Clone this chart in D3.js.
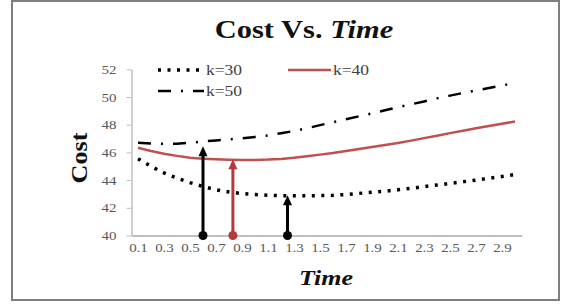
<!DOCTYPE html>
<html>
<head>
<meta charset="utf-8">
<script src="https://cdn.jsdelivr.net/npm/d3@7"></script>
<style>
  body { margin: 0; background: #fff; }
  svg { display: block; }
</style>
</head>
<body>
<script>
const width = 563;
const height = 306;
const stretch = 1.2; // the source picture is a bit wider than tall

// time values (x categories) and labelled ticks
const times = [0.1, 0.2, 0.3, 0.4, 0.5, 0.6, 0.7, 0.8, 0.9, 1.0,
    1.1, 1.2, 1.3, 1.4, 1.5, 1.6, 1.7, 1.8, 1.9, 2.0,
    2.1, 2.2, 2.3, 2.4, 2.5, 2.6, 2.7, 2.8, 2.9, 3.0];
const xTicks = [0.1, 0.3, 0.5, 0.7, 0.9, 1.1, 1.3, 1.5, 1.7, 1.9, 2.1, 2.3, 2.5, 2.7, 2.9];
const yTicks = [40, 42, 44, 46, 48, 50, 52];

// cost for each k
const k30 = [45.54, 45.0, 44.52, 44.14, 43.82, 43.54, 43.3, 43.14, 43.03, 42.96,
    42.91, 42.88, 42.87, 42.87, 42.88, 42.9, 42.96, 43.04, 43.12, 43.2,
    43.3, 43.41, 43.53, 43.64, 43.76, 43.88, 44.0, 44.13, 44.26, 44.4];
const k40 = [46.33, 46.1, 45.9, 45.75, 45.62, 45.55, 45.5, 45.47, 45.46, 45.46,
    45.48, 45.53, 45.61, 45.72, 45.84, 45.95, 46.1, 46.25, 46.39, 46.53,
    46.68, 46.85, 47.03, 47.2, 47.39, 47.57, 47.74, 47.91, 48.07, 48.23];
const k50 = [46.69, 46.65, 46.62, 46.63, 46.7, 46.79, 46.86, 46.94, 47.02, 47.12,
    47.23, 47.38, 47.55, 47.74, 47.97, 48.18, 48.4, 48.61, 48.82, 49.04,
    49.26, 49.47, 49.68, 49.9, 50.1, 50.29, 50.47, 50.65, 50.83, 51.02];

// optimum markers (arrows)
const arrowTimes = [0.6, 0.83, 1.25];
const arrowCosts = [46.45, 45.5, 42.9];
const arrowColors = ['#000', '#b5383d', '#000'];

const series = [
    { name: 'k=30', values: k30, color: '#000', width: 3.5, dash: '3,6.5' },
    { name: 'k=40', values: k40, color: '#c0504d', width: 2.5, dash: null },
    { name: 'k=50', values: k50, color: '#000', width: 2.5, dash: '13,10,2,10' }
];

const svg = d3.select('body').append('svg')
    .attr('width', width)
    .attr('height', height);

// chart frame
svg.append('rect')
    .attr('x', 12)
    .attr('y', 1)
    .attr('width', 547)
    .attr('height', 299)
    .attr('fill', '#fff')
    .attr('stroke', '#7f7f7f')
    .attr('stroke-width', 2);

const xScale = d3.scaleLinear()
    .domain([0.05, 3.05])
    .range([131.5, 521.5]);
const yScale = d3.scaleLinear()
    .domain([40, 52])
    .range([235.5, 69.3]);

// y axis
const yAxis = d3.axisLeft(yScale)
    .tickValues(yTicks)
    .tickSize(5)
    .tickPadding(10)
    .tickSizeOuter(0);
const gy = svg.append('g')
    .attr('transform', 'translate(131.5,0)')
    .call(yAxis);
gy.select('.domain').attr('stroke', '#bfbfbf').attr('stroke-width', 1.5);
gy.selectAll('.tick line').attr('stroke', '#bfbfbf');
gy.selectAll('.tick text')
    .attr('x', -15 / stretch)
    .attr('transform', 'scale(' + stretch + ',1)')
    .style('font-family', '"Liberation Serif", serif')
    .style('font-size', '12.5px')
    .attr('fill', '#595959');

// x axis
const xAxis = d3.axisBottom(xScale)
    .tickValues(xTicks)
    .tickSize(0)
    .tickPadding(8)
    .tickSizeOuter(0)
    .tickFormat(d3.format('.1f'));
const gx = svg.append('g')
    .attr('transform', 'translate(0,235.5)')
    .call(xAxis);
gx.select('.domain').attr('stroke', '#bfbfbf').attr('stroke-width', 2);
gx.selectAll('.tick text')
    .attr('transform', 'scale(' + stretch + ',1)')
    .style('font-family', '"Liberation Serif", serif')
    .style('font-size', '12.5px')
    .attr('fill', '#595959');

// lines
const line = d3.line()
    .x((d, i) => xScale(times[i]))
    .y(d => yScale(d));

series.forEach(s => {
    svg.append('path')
        .attr('d', line(s.values))
        .attr('fill', 'none')
        .attr('stroke', s.color)
        .attr('stroke-width', s.width)
        .attr('stroke-dasharray', s.dash);
});

// arrows
arrowTimes.forEach((t, i) => {
    const x = xScale(t);
    const yTop = yScale(arrowCosts[i]);
    const yBot = yScale(40);
    svg.append('line')
        .attr('x1', x).attr('x2', x)
        .attr('y1', yBot).attr('y2', yTop + 8)
        .attr('stroke', arrowColors[i])
        .attr('stroke-width', 3);
    svg.append('path')
        .attr('d', 'M' + (x - 4.5) + ',' + (yTop + 10) + 'L' + x + ',' + yTop + 'L' + (x + 4.5) + ',' + (yTop + 10) + 'Z')
        .attr('fill', arrowColors[i]);
    svg.append('circle')
        .attr('cx', x)
        .attr('cy', yBot)
        .attr('r', 4.5)
        .attr('fill', arrowColors[i]);
});

// legend
const legendPos = [[158, 70], [288, 70], [158, 91]];
const legendLen = [46, 43, 46];
series.forEach((s, i) => {
    const [lx, ly] = legendPos[i];
    svg.append('line')
        .attr('x1', lx).attr('x2', lx + legendLen[i])
        .attr('y1', ly).attr('y2', ly)
        .attr('stroke', s.color)
        .attr('stroke-width', s.width)
        .attr('stroke-dasharray', s.dash);
    svg.append('text')
        .attr('transform', 'translate(' + (lx + legendLen[i] + 2) + ',' + (ly + 5) + ') scale(1.25,1)')
        .style('font-family', '"Liberation Serif", serif')
        .style('font-size', '14px')
        .attr('fill', '#404040')
        .text(s.name);
});

// titles
const title = svg.append('text')
    .attr('transform', 'translate(304,38) scale(1.22,1)')
    .attr('text-anchor', 'middle')
    .style('font-family', '"Liberation Serif", serif')
    .style('font-size', '25px')
    .style('font-weight', 'bold')
    .attr('fill', '#111');
title.append('tspan').text('Cost Vs. ');
title.append('tspan').style('font-style', 'italic').text('Time');

svg.append('text')
    .attr('transform', 'translate(87,158) rotate(-90) scale(1.14,1)')
    .attr('text-anchor', 'middle')
    .style('font-family', '"Liberation Serif", serif')
    .style('font-size', '23px')
    .style('font-weight', 'bold')
    .attr('fill', '#111')
    .text('Cost');

svg.append('text')
    .attr('transform', 'translate(326,285) scale(1.18,1)')
    .attr('text-anchor', 'middle')
    .style('font-family', '"Liberation Serif", serif')
    .style('font-size', '22px')
    .style('font-weight', 'bold')
    .style('font-style', 'italic')
    .attr('fill', '#111')
    .text('Time');
</script>
</body>
</html>
